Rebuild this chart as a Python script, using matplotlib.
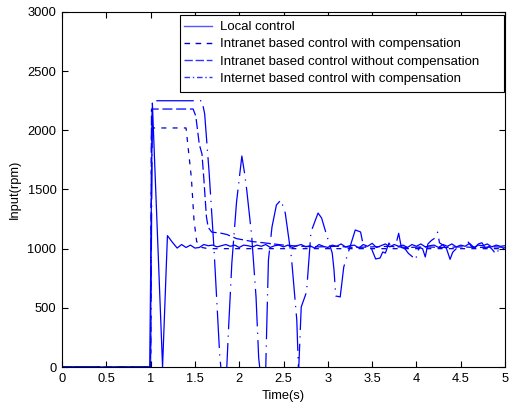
import numpy as np
import matplotlib
matplotlib.use("Agg")
import matplotlib.pyplot as plt
from matplotlib.lines import Line2D
from matplotlib.patches import Rectangle

plt.rcParams['font.family'] = ['Liberation Sans', 'DejaVu Sans']

# ---- data ----
labels = ["Local control",
          "Intranet based control with compensation",
          "Intranet based control without compensation",
          "Internet based control with compensation"]

# Local control (solid)
t_local = [0, 0.99, 1.02, 1.135, 1.19,
           1.25, 1.30, 1.35, 1.40, 1.45, 1.50, 1.55, 1.60, 1.65, 1.70, 1.75, 1.80, 1.85, 1.90, 1.95,
           2.00, 2.05, 2.10, 2.15, 2.20, 2.25, 2.30, 2.35, 2.40, 2.45, 2.50, 2.55, 2.60, 2.65, 2.70,
           2.75, 2.80, 2.85, 2.90, 2.95, 3.00, 3.05, 3.10, 3.15, 3.20, 3.25, 3.30, 3.35, 3.40, 3.45,
           3.50, 3.55, 3.60, 3.65, 3.70, 3.75, 3.80, 3.85, 3.90, 3.95, 4.00, 4.05, 4.10, 4.15, 4.20,
           4.25, 4.30, 4.35, 4.40, 4.45, 4.50, 4.55, 4.60, 4.65, 4.70, 4.75, 4.80, 4.85, 4.90, 4.95, 5.00]
v_local = [0, 0, 2230, 0, 1110,
           1050, 1005, 1035, 1010, 1030, 1005, 1010, 1035, 1025, 1030, 1015, 1025, 1035, 1020, 1030,
           1010, 1030, 1025, 1015, 1030, 1020, 1035, 1010, 1025, 1030, 1015, 1030, 1010, 1025, 1035,
           1015, 1025, 1005, 1035, 1020, 1010, 1030, 1020, 1040, 1015, 1025, 1030, 1005, 1035, 1020,
           1045, 1010, 1025, 1040, 1015, 1035, 1020, 1030, 1010, 1035, 1020, 1040, 1015, 1025, 1030,
           1010, 1035, 1020, 1040, 1015, 1030, 1020, 1045, 1010, 1030, 1025, 1040, 1015, 1030, 1020, 1025]

# Intranet based control with compensation (short dashes)
t_intra_c = [0, 1.0, 1.01, 1.40, 1.46, 1.49, 1.52, 1.58, 1.65, 5.0]
v_intra_c = [0, 0, 2020, 2020, 1600, 1240, 1060, 1010, 1000, 1000]

# Intranet based control without compensation (dashes)
t_intra_nc = [0, 1.0, 1.01, 1.48, 1.51, 1.55, 1.58, 1.60, 1.63, 1.65, 1.69, 1.80, 1.86, 1.97,
              2.15, 2.33, 2.50, 2.70, 2.90, 3.10, 3.30, 3.50, 3.70, 3.90, 4.10, 4.30, 4.50,
              4.70, 4.90, 5.00]
v_intra_nc = [0, 0, 2180, 2180, 2120, 1880, 1800, 1600, 1270, 1180, 1140, 1130, 1120, 1085,
              1060, 1045, 1030, 1020, 1015, 1020, 1010, 1015, 1020, 1010, 1015, 1010, 1015,
              1010, 1015, 1010]

# Internet based control with compensation (dash-dot)
t_inter = [0, 1.0, 1.02, 1.58, 1.61, 1.66, 1.715, 1.78, 1.825, 1.86, 1.883, 1.917, 1.97, 2.03,
           2.06, 2.085, 2.14, 2.19, 2.22, 2.26, 2.30, 2.31, 2.33, 2.37, 2.42, 2.47, 2.52, 2.59,
           2.65, 2.67, 2.70, 2.76, 2.81, 2.89, 2.93, 2.98, 3.05, 3.07, 3.09, 3.14, 3.16, 3.18,
           3.31, 3.37, 3.40, 3.45, 3.49, 3.54, 3.59, 3.62, 3.65, 3.69, 3.73, 3.77, 3.80, 3.83,
           3.87, 3.91, 3.95, 3.99, 4.03, 4.07, 4.10, 4.13, 4.17, 4.21, 4.24, 4.26, 4.30, 4.34,
           4.38, 4.41, 4.45, 4.50, 4.54, 4.58, 4.62, 4.66, 4.70, 4.74, 4.78, 4.82, 4.86, 4.90,
           4.94, 4.98, 5.00]
v_inter = [0, 0, 2250, 2250, 2140, 1650, 1006, 100, -250, 0, 372, 879, 1394, 1783,
           1640, 1496, 1115, 592, 76, -200, 0, 313, 904, 1183, 1369, 1411, 1301, 921,
           397, -50, 507, 634, 1141, 1301, 1259, 1132, 963, 820, 600, 592, 718, 845,
           1158, 1141, 1030, 1010, 1006, 913, 921, 972, 963, 1048, 1000, 1040, 1130, 1010,
           1000, 960, 935, 905, 1010, 1000, 930, 1040, 1070, 1090, 1140, 1050, 1030, 1000,
           910, 970, 1000, 1010, 1040, 1060, 1020, 1010, 1040, 1050, 1000, 1020, 990, 950,
           1010, 1000, 1010]

x_ticks = [0, 0.5, 1, 1.5, 2, 2.5, 3, 3.5, 4, 4.5, 5]
x_ticklabels = ["0", "0.5", "1", "1.5", "2", "2.5", "3", "3.5", "4", "4.5", "5"]
y_ticks = [0, 500, 1000, 1500, 2000, 2500, 3000]

# ---- styles ----
blue = "#0000ff"
ls_local = "-"
ls_intra_c = (0, (4, 5))
ls_intra_nc = (0, (8, 3))
ls_inter = (0, (30, 5, 1, 5))

W, H = 510, 407
fig = plt.figure(figsize=(W/100, H/100), dpi=100)
ax = fig.add_axes([62/W, 1-367/H, (505-62)/W, (367-12)/H])

ax.plot(t_intra_c, v_intra_c, color="#0000cc", lw=0.9, linestyle=ls_intra_c)
ax.plot(t_intra_nc, v_intra_nc, color=blue, lw=0.9, linestyle=ls_intra_nc)
ax.plot(t_inter, v_inter, color=blue, lw=0.9, linestyle=ls_inter)
ax.plot(t_local, v_local, color=blue, lw=0.9, linestyle=ls_local)

ax.set_xlim(0, 5)
ax.set_ylim(0, 3000)
ax.set_xticks(x_ticks)
ax.set_xticklabels(x_ticklabels)
ax.set_yticks(y_ticks)
ax.tick_params(direction="in", top=True, right=True, length=4, width=0.8, labelsize=9.3, pad=4)
for s in ax.spines.values():
    s.set_linewidth(0.8)
ax.set_xlabel("Time(s)", fontsize=9.3, labelpad=4)
ax.set_ylabel("Input(rpm)", fontsize=9.3, labelpad=5)

# legend frame (MATLAB-style box with wide right margin)
frame = Rectangle((180/W, 1-92/H), (504-180)/W, (92-15)/H, transform=fig.transFigure,
                  facecolor="white", edgecolor="black", lw=0.8, zorder=5)
fig.add_artist(frame)

handles = [
    Line2D([], [], color="#5555ff", lw=1.0, linestyle="-"),
    Line2D([], [], color="#0000cc", lw=1.0, linestyle=(0, (4, 4))),
    Line2D([], [], color="#3333ff", lw=1.0, linestyle=(0, (6, 2))),
    Line2D([], [], color="#3333ff", lw=1.0, linestyle=(0, (4, 2, 1, 2))),
]
leg = fig.legend(handles, labels, loc="upper left", bbox_to_anchor=(184/W, 1-21/H),
                 bbox_transform=fig.transFigure, fontsize=9.5, frameon=False,
                 borderpad=0, labelspacing=0.38, handlelength=2.1, handletextpad=0.6,
                 borderaxespad=0)
leg.set_zorder(6)

fig.savefig("out.png", dpi=100)
